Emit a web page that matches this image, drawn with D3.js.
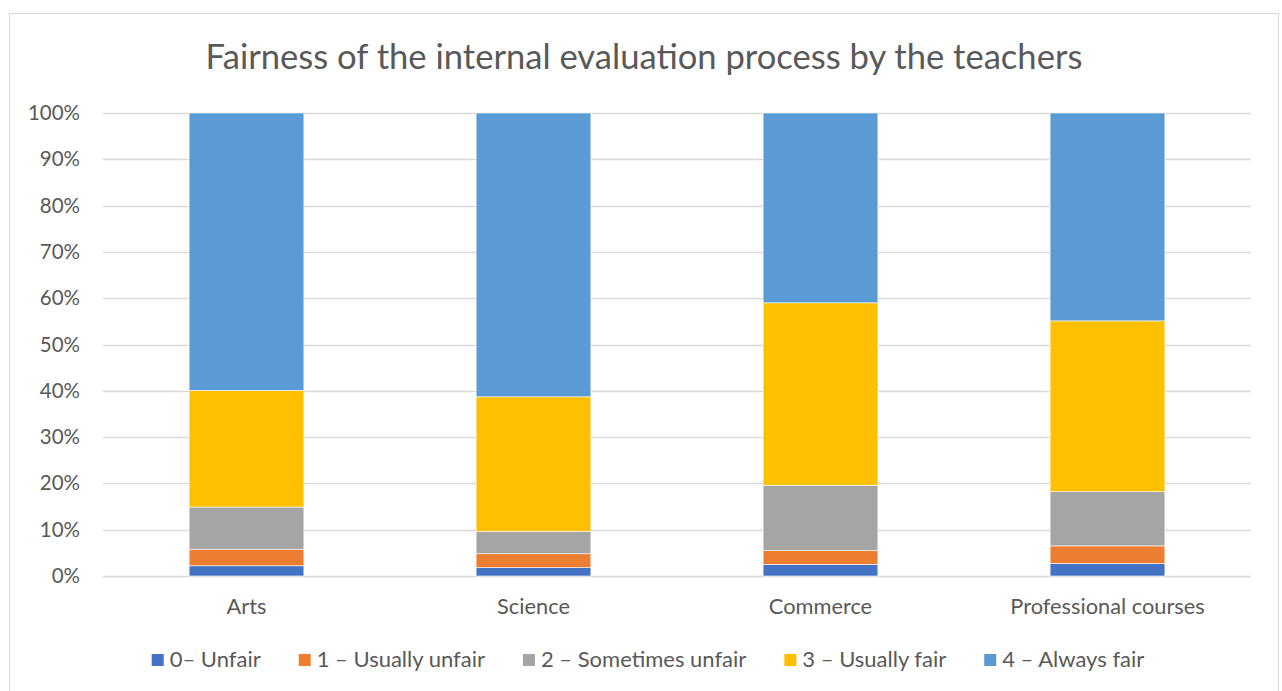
<!DOCTYPE html>
<html lang="en">
<head>
    <meta charset="utf-8">
    <title>Fairness of the internal evaluation process by the teachers</title>
    <style>
        body {
            margin: 0;
            padding: 0;
            background: #fff;
            font-family: Lato, "Open Sans", sans-serif;
        }
        #chart text {
            fill: #595959;
        }
    </style>
</head>
<body>

<div id="chart"></div>

<script src="https://d3js.org/d3.v7.min.js"></script>

<script>
  // Data (percent of each stream)
  const categories = ["Arts", "Science", "Commerce", "Professional courses"];
  const seriesNames = ["0– Unfair", "1 – Usually unfair", "2 – Sometimes unfair", "3 – Usually fair", "4 – Always fair"];
  const unfair = [2.2, 1.8, 2.5, 2.7];
  const usuallyUnfair = [3.6, 3.0, 3.0, 3.8];
  const sometimesUnfair = [9.1, 4.8, 14.1, 11.7];
  const usuallyFair = [25.2, 29.1, 39.4, 36.9];
  const alwaysFair = [59.9, 61.3, 41.0, 44.9];
  const yTicks = [0, 10, 20, 30, 40, 50, 60, 70, 80, 90, 100];
  const colors = ["#4472c4", "#ed7d31", "#a5a5a5", "#ffc000", "#5b9bd5"];

  const width = 1282, height = 691;

  const svg = d3.select("#chart")
    .append("svg")
    .attr("width", width)
    .attr("height", height);

  // outer chart frame
  svg.append("rect")
    .attr("x", 9.5)
    .attr("y", 13.5)
    .attr("width", 1269)
    .attr("height", 690)
    .attr("fill", "#fff")
    .attr("stroke", "#d9d9d9")
    .attr("stroke-width", 1);

  svg.append("text")
    .attr("x", 644)
    .attr("y", 69)
    .attr("text-anchor", "middle")
    .style("font-size", "34.6px")
    .text("Fairness of the internal evaluation process by the teachers");

  const x = d3.scaleBand()
    .domain(categories)
    .range([103, 1251])
    .paddingInner(0.6)
    .paddingOuter(0.3);

  const y = d3.scaleLinear()
    .domain([0, 100])
    .range([576, 113]);

  // gridlines
  svg.append("g")
    .selectAll("line")
    .data(yTicks)
    .enter()
    .append("line")
    .attr("x1", 103)
    .attr("x2", 1251)
    .attr("y1", d => Math.round(y(d)) + 0.5)
    .attr("y2", d => Math.round(y(d)) + 0.5)
    .attr("stroke", "#d9d9d9")
    .attr("stroke-width", 1.5);

  // y labels
  svg.append("g")
    .selectAll("text")
    .data(yTicks)
    .enter()
    .append("text")
    .attr("x", 80)
    .attr("y", d => y(d) + 7)
    .attr("text-anchor", "end")
    .style("font-size", "20.5px")
    .text(d => d + "%");

  // stacked bars
  const rows = categories.map((c, i) => ({
    cat: c,
    s0: unfair[i], s1: usuallyUnfair[i], s2: sometimesUnfair[i], s3: usuallyFair[i], s4: alwaysFair[i]
  }));
  const keys = ["s0", "s1", "s2", "s3", "s4"];
  const stacked = d3.stack().keys(keys)
    .offset(d3.stackOffsetExpand)(rows);

  svg.append("g")
    .selectAll("g")
    .data(stacked)
    .enter()
    .append("g")
    .attr("fill", (d, i) => colors[i])
    .selectAll("rect")
    .data(d => d)
    .enter()
    .append("rect")
    .attr("x", d => x(d.data.cat))
    .attr("width", x.bandwidth())
    .attr("y", d => y(d[1] * 100))
    .attr("height", d => y(d[0] * 100) - y(d[1] * 100))
    .attr("stroke", "#fff")
    .attr("stroke-width", 0.6);

  // category labels
  svg.append("g")
    .selectAll("text")
    .data(categories)
    .enter()
    .append("text")
    .attr("x", d => x(d) + x.bandwidth() / 2)
    .attr("y", 614)
    .attr("text-anchor", "middle")
    .style("font-size", "21.8px")
    .text(d => d);

  // legend, laid out by measured text widths and centred
  const legend = svg.append("g");
  const items = legend.selectAll("g")
    .data(seriesNames)
    .enter()
    .append("g");
  items.append("rect")
    .attr("width", 12)
    .attr("height", 12)
    .attr("y", 654)
    .attr("fill", (d, i) => colors[i]);
  items.append("text")
    .attr("x", 18)
    .attr("y", 667)
    .style("font-size", "22px")
    .text(d => d);

  let pos = 0;
  const offsets = [];
  items.each(function () {
    offsets.push(pos);
    pos += 18 + this.querySelector("text").getComputedTextLength() + 38;
  });
  const total = pos - 38;
  const start = 648 - total / 2;
  items.attr("transform", (d, i) => `translate(${start + offsets[i]},0)`);
</script>

</body>
</html>
